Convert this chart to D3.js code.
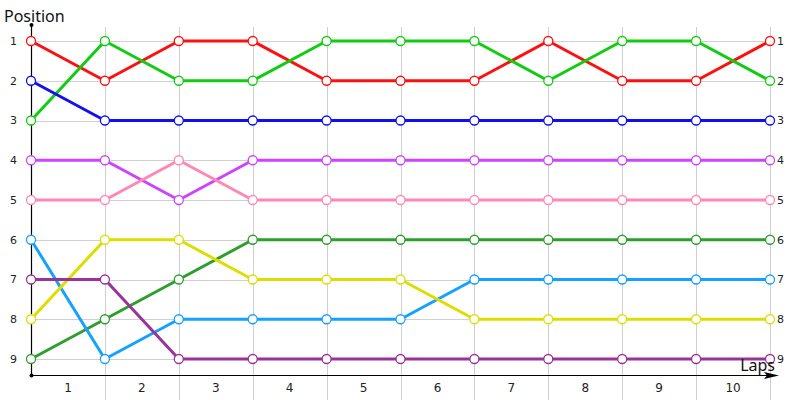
<!DOCTYPE html>
<html><head><meta charset="utf-8">
<script src="https://cdn.jsdelivr.net/npm/d3@7"></script>
<style>body{margin:0;background:#fff}svg{display:block}text{font-family:"DejaVu Sans",Verdana,sans-serif}</style>
</head><body><svg id="c" width="800" height="400"></svg>
<script>
const laps = [0,1,2,3,4,5,6,7,8,9,10];
const lapLabels = ["1","2","3","4","5","6","7","8","9","10"];
const positions = [1,2,3,4,5,6,7,8,9];
const seriesNames = ["red","green","blue","purple","pink","darkgreen","lightblue","yellow","darkpurple"];
const seriesColors = ["#ff1010","#11cc11","#1010f0","#cc44ff","#ff88b4","#2e9e2e","#16a0ff","#dddd00","#993399"];
const red        = [1,2,1,1,2,2,2,1,2,2,1];
const green      = [3,1,2,2,1,1,1,2,1,1,2];
const blue       = [2,3,3,3,3,3,3,3,3,3,3];
const purple     = [4,4,5,4,4,4,4,4,4,4,4];
const pink       = [5,5,4,5,5,5,5,5,5,5,5];
const darkgreen  = [9,8,7,6,6,6,6,6,6,6,6];
const lightblue  = [6,9,8,8,8,8,7,7,7,7,7];
const yellow     = [8,6,6,7,7,7,8,8,8,8,8];
const darkpurple = [7,7,9,9,9,9,9,9,9,9,9];
const seriesValues = [red,green,blue,purple,pink,darkgreen,lightblue,yellow,darkpurple];

const svg = d3.select("#c");
const x = d3.scaleLinear().domain([0,10]).range([31,770]);
const y = d3.scaleLinear().domain([1,9]).range([41,359]);
const axisY = 375.5, topY = 25;

// grid
const g = svg.append("g").attr("stroke","#d0d0d0").attr("stroke-width",1).attr("shape-rendering","crispEdges");
g.selectAll("line.h").data(positions).join("line").attr("class","h")
  .attr("x1",x(0)).attr("x2",x(10)).attr("y1",d=>Math.round(y(d))+0.5).attr("y2",d=>Math.round(y(d))+0.5);
g.selectAll("line.v").data(laps.slice(1)).join("line").attr("class","v")
  .attr("x1",d=>Math.round(x(d))+0.5).attr("x2",d=>Math.round(x(d))+0.5).attr("y1",27).attr("y2",400);

// axes
svg.append("line").attr("x1",x(0)+0.5).attr("x2",x(0)+0.5).attr("y1",topY).attr("y2",axisY).attr("stroke","#000").attr("stroke-width",1.2);
svg.append("line").attr("x1",x(0)).attr("x2",772).attr("y1",axisY).attr("y2",axisY).attr("stroke","#000").attr("stroke-width",1.2);
svg.append("path").attr("d",`M764,${axisY-3.5}L779,${axisY}L764,${axisY+3.5}L767,${axisY}Z`).attr("fill","#000");
svg.append("circle").attr("cx",x(0)+0.5).attr("cy",topY).attr("r",2).attr("fill","#000");
svg.append("circle").attr("cx",x(0)+0.5).attr("cy",axisY).attr("r",2).attr("fill","#000");

// tick labels
svg.selectAll("text.yt").data(positions).join("text").attr("class","yt")
  .attr("x",17).attr("y",d=>y(d)).attr("dy","0.35em").attr("text-anchor","end")
  .attr("font-size",11).attr("fill","#222").text(d=>d);
svg.selectAll("text.yr").data(positions).join("text").attr("class","yr")
  .attr("x",777).attr("y",d=>y(d)).attr("dy","0.35em").attr("text-anchor","start")
  .attr("font-size",11).attr("fill","#222").text(d=>d);
svg.selectAll("text.xt").data(lapLabels).join("text").attr("class","xt")
  .attr("x",(d,i)=>x(i+0.5)).attr("y",392).attr("text-anchor","middle")
  .attr("font-size",12).attr("fill","#222").text(d=>d);

// series
const line = d3.line().x((d,i)=>x(laps[i])).y(d=>y(d));
seriesValues.forEach((vals,k)=>{
  svg.append("path").attr("d",line(vals)).attr("fill","none")
    .attr("stroke",seriesColors[k]).attr("stroke-width",3).attr("stroke-linejoin","round");
});
seriesValues.forEach((vals,k)=>{
  svg.append("g").selectAll("circle").data(vals).join("circle")
    .attr("cx",(d,i)=>x(laps[i])).attr("cy",d=>y(d)).attr("r",4.5)
    .attr("fill","#fff").attr("stroke",seriesColors[k]).attr("stroke-width",1.3);
});

// titles
svg.append("text").attr("x",4).attr("y",22).attr("font-size",16).attr("fill","#111")
  .style("font-family","'Noto Sans',sans-serif").text("Position");
svg.append("text").attr("x",775).attr("y",371).attr("text-anchor","end").attr("font-size",16).attr("fill","#111")
  .style("font-family","'Noto Sans',sans-serif").text("Laps");
</script></body></html>
